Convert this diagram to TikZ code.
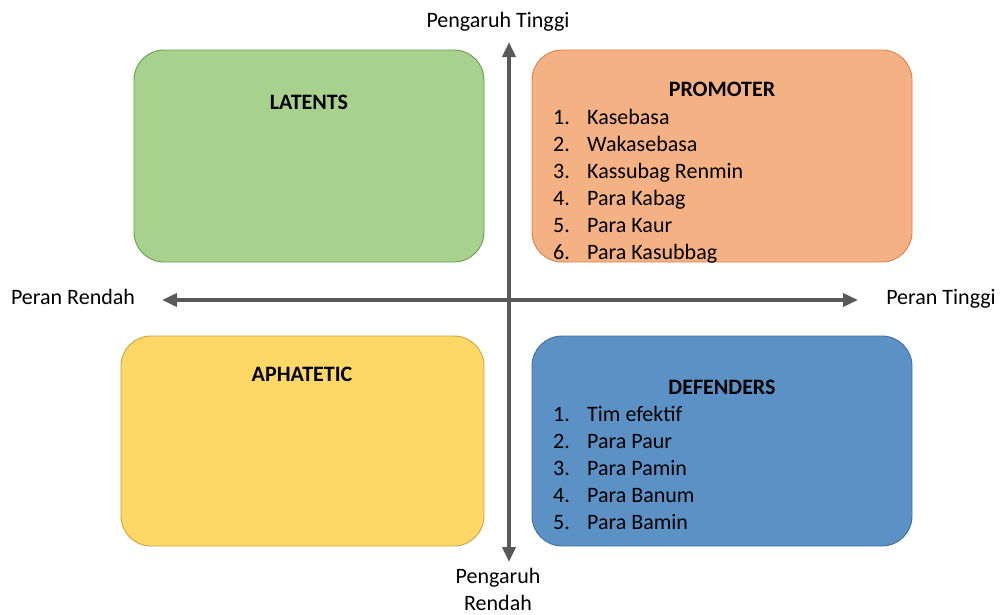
\documentclass[tikz,border=0pt]{standalone}
\usepackage{fontspec}
\setmainfont{Carlito}
\usetikzlibrary{positioning,arrows.meta}

\definecolor{latentfill}{HTML}{A9D18E}
\definecolor{latentline}{HTML}{6E9A52}
\definecolor{promfill}{HTML}{F4B183}
\definecolor{promline}{HTML}{D9844A}
\definecolor{apafill}{HTML}{FDD866}
\definecolor{apaline}{HTML}{C9A441}
\definecolor{deffill}{HTML}{5B91C4}
\definecolor{defline}{HTML}{41719C}
\definecolor{axisgray}{HTML}{595959}

\begin{document}
\begin{tikzpicture}[x=1pt, y=-1pt,
  font=\fontsize{22}{27}\selectfont,
  quad/.style={draw, line width=0.9pt, rounded corners=30pt, inner sep=0pt},
  ttl/.style={font=\fontsize{22}{27}\selectfont\bfseries, anchor=base, inner sep=0pt},
  lst/.style={anchor=base west, inner sep=0pt},
  lbl/.style={anchor=base, inner sep=0pt},
  axis/.style={draw=axisgray, line width=3.6pt},
  >={Triangle[length=15pt,width=13pt]}]
\useasboundingbox (0,0) rectangle (1000,614);
% quadrants
\node[quad, fill=latentfill, draw=latentline, minimum width=350pt, minimum height=212pt] (latents) at (309,156) {};
\node[quad, fill=promfill, draw=promline, minimum width=380pt, minimum height=212pt] (promoter) at (722,156) {};
\node[quad, fill=apafill, draw=apaline, minimum width=363pt, minimum height=210pt] (aphatetic) at (302.5,441) {};
\node[quad, fill=deffill, draw=defline, minimum width=380pt, minimum height=210pt] (defenders) at (722,441) {};
% titles
\node[ttl] (latttl) at (309,109) {LATENTS};
\node[ttl] (promttl) at (722,96) {PROMOTER};
\node[ttl] (apattl) at (302,381) {APHATETIC};
\node[ttl] (defttl) at (722,394) {DEFENDERS};
% lists
\node[lst] (promlist) at (553,124) {\begin{tabular}[t]{@{}p{34pt}@{}l@{}}
1. & Kasebasa\\
2. & Wakasebasa\\
3. & Kassubag Renmin\\
4. & Para Kabag\\
5. & Para Kaur\\
6. & Para Kasubbag
\end{tabular}};
\node[lst] (deflist) at (553,421) {\begin{tabular}[t]{@{}p{34pt}@{}l@{}}
1. & Tim efektif\\
2. & Para Paur\\
3. & Para Pamin\\
4. & Para Banum\\
5. & Para Bamin
\end{tabular}};
% axes
\coordinate (top) at (509,42);
\coordinate (bottom) at (509,562);
\coordinate (left) at (162,300);
\coordinate (right) at (858,300);
\draw[axis, <->] (bottom) -- (top);
\draw[axis, <->] (left) -- (right);
\node[lbl] (hiinf) at (498,27) {Pengaruh Tinggi};
\node[lbl] (loinf) at (498,583) {\begin{tabular}[t]{@{}c@{}}Pengaruh\\Rendah\end{tabular}};
\node[lbl] (lorole) at (73,304) {Peran Rendah};
\node[lbl] (hirole) at (941,304) {Peran Tinggi};
\end{tikzpicture}
\end{document}
